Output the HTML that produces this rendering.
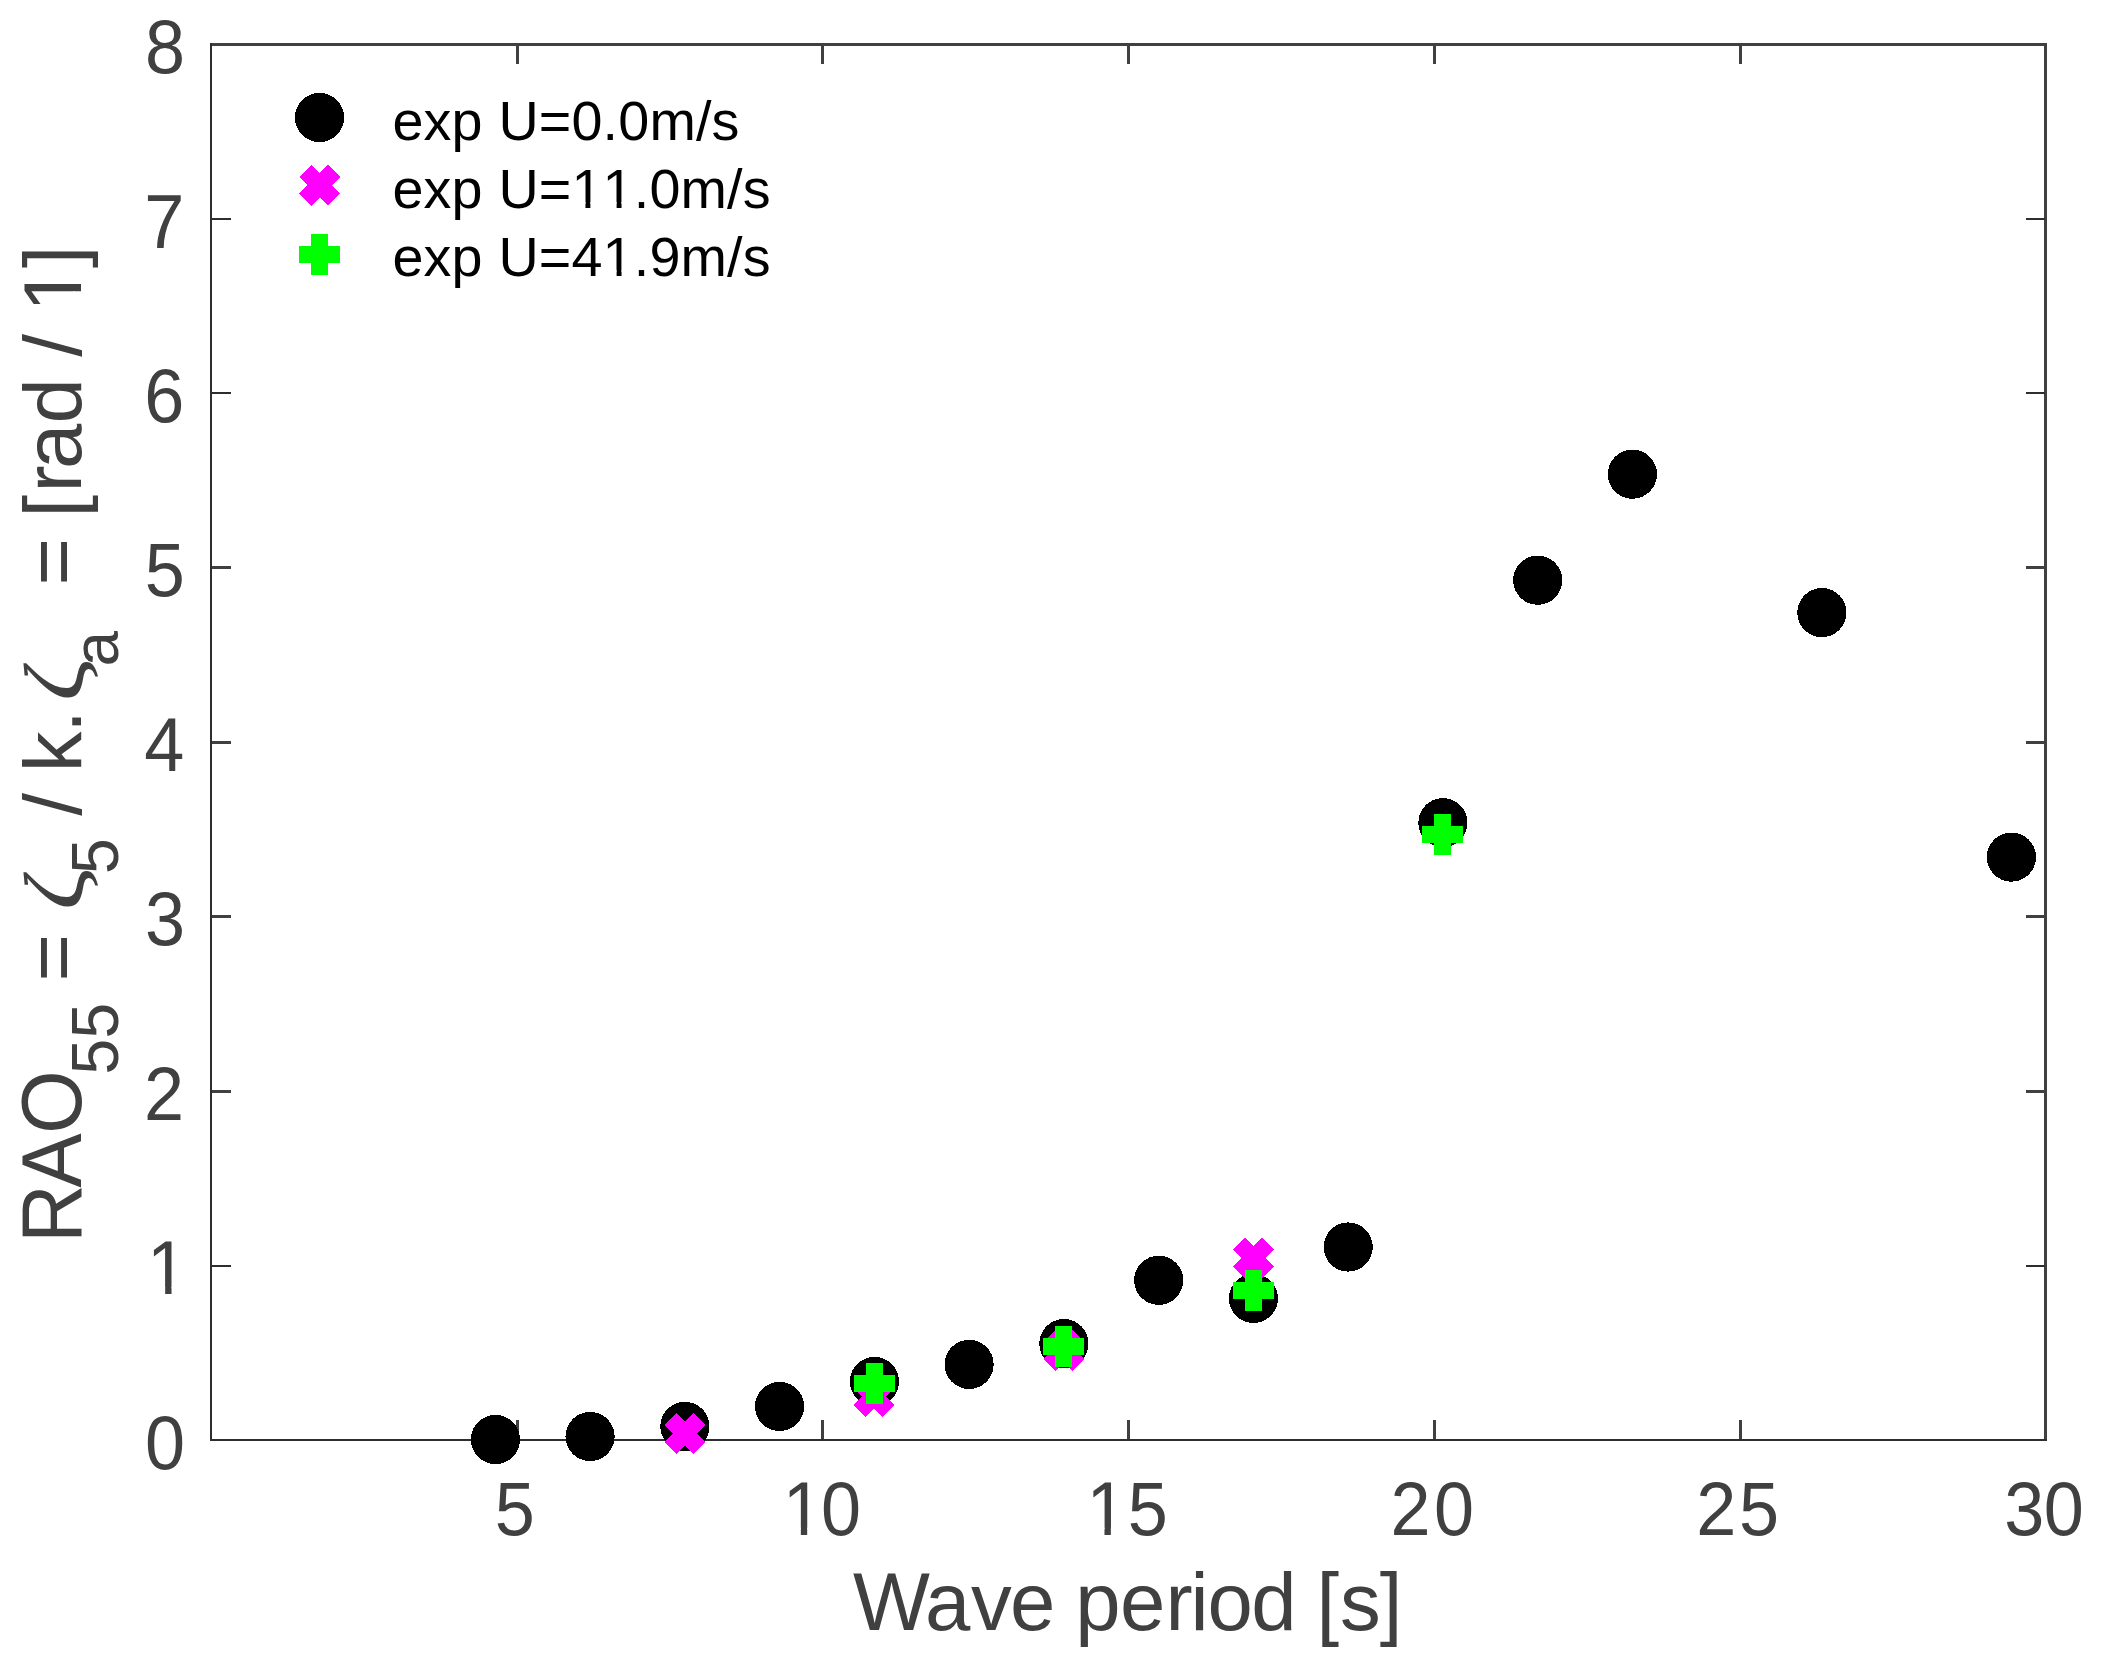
<!DOCTYPE html>
<html><head><meta charset="utf-8"><title>RAO55 vs wave period</title>
<style>html,body{margin:0;padding:0;background:#fff;overflow:hidden}svg{display:block}text{font-family:"Liberation Sans",Arial,Helvetica,sans-serif;font-kerning:none;white-space:pre}.ax{fill:#404040}.tk{font-size:72px;fill:#404040}.lb{font-size:81.5px;fill:#404040}.sb{font-size:64px;fill:#404040}.zt{font-family:"Liberation Serif","DejaVu Serif",serif;font-size:83.8px;fill:#404040}.lg{font-size:55.7px;fill:#000}</style>
</head><body>
<svg width="2106" height="1672" viewBox="0 0 2106 1672">
<rect x="0" y="0" width="2106" height="1672" fill="#fff"/>
<g shape-rendering="crispEdges">
<rect x="210" y="43" width="1837" height="3" fill="#404040"/>
<rect x="2044" y="43" width="3" height="1398" fill="#404040"/>
<rect x="516" y="1420" width="3" height="20" fill="#404040"/>
<rect x="516" y="45" width="3" height="19" fill="#404040"/>
<rect x="821" y="1420" width="3" height="20" fill="#404040"/>
<rect x="821" y="45" width="3" height="19" fill="#404040"/>
<rect x="1127" y="1420" width="3" height="20" fill="#404040"/>
<rect x="1127" y="45" width="3" height="19" fill="#404040"/>
<rect x="1433" y="1420" width="3" height="20" fill="#404040"/>
<rect x="1433" y="45" width="3" height="19" fill="#404040"/>
<rect x="1739" y="1420" width="3" height="20" fill="#404040"/>
<rect x="1739" y="45" width="3" height="19" fill="#404040"/>
<rect x="211" y="1265" width="20" height="2" fill="#2e2e2e"/>
<rect x="2026" y="1265" width="19" height="2" fill="#2e2e2e"/>
<rect x="211" y="1090" width="20" height="3" fill="#404040"/>
<rect x="2026" y="1090" width="19" height="3" fill="#404040"/>
<rect x="211" y="915" width="20" height="3" fill="#404040"/>
<rect x="2026" y="915" width="19" height="3" fill="#404040"/>
<rect x="211" y="741" width="20" height="3" fill="#404040"/>
<rect x="2026" y="741" width="19" height="3" fill="#404040"/>
<rect x="211" y="566" width="20" height="3" fill="#404040"/>
<rect x="2026" y="566" width="19" height="3" fill="#404040"/>
<rect x="211" y="392" width="20" height="2" fill="#2e2e2e"/>
<rect x="2026" y="392" width="19" height="2" fill="#2e2e2e"/>
<rect x="211" y="218" width="20" height="2" fill="#2e2e2e"/>
<rect x="2026" y="218" width="19" height="2" fill="#2e2e2e"/>
<rect x="210" y="1439" width="1837" height="2" fill="#2e2e2e"/>
<rect x="210" y="43" width="2" height="1398" fill="#2e2e2e"/>
</g>
<text class="tk" transform="translate(0,1535.0) scale(1,1.050)" y="0.0" x="494.7">5</text>
<clipPath id="c1"><path clip-rule="evenodd" d="M-3000 -3000H3000V3000H-3000ZM787.00 -6.88H800.83V2.00H787.00ZM807.19 -6.88H820.46V2.00H807.19Z"/></clipPath>
<text class="tk" clip-path="url(#c1)" transform="translate(0,1535.0) scale(1,1.050)" y="0.0" x="782.7 820.9">10</text>
<clipPath id="c2"><path clip-rule="evenodd" d="M-3000 -3000H3000V3000H-3000ZM1090.65 -6.88H1104.48V2.00H1090.65ZM1110.84 -6.88H1124.11V2.00H1110.84Z"/></clipPath>
<text class="tk" clip-path="url(#c2)" transform="translate(0,1535.0) scale(1,1.050)" y="0.0" x="1086.4 1127.7">15</text>
<text class="tk" transform="translate(0,1535.0) scale(1,1.050)" y="0.0" x="1390.5 1434.0">20</text>
<text class="tk" transform="translate(0,1535.0) scale(1,1.050)" y="0.0" x="1696.3 1738.9">25</text>
<text class="tk" transform="translate(0,1535.0) scale(1,1.050)" y="0.0" x="2004.2 2043.7">30</text>
<text class="tk" transform="translate(0,1468.6) scale(1,1.050)" y="0.0" x="145.0">0</text>
<clipPath id="c3"><path clip-rule="evenodd" d="M-3000 -3000H3000V3000H-3000ZM151.33 -6.88H165.16V2.00H151.33ZM171.52 -6.88H184.79V2.00H171.52Z"/></clipPath>
<text class="tk" clip-path="url(#c3)" transform="translate(0,1294.2) scale(1,1.050)" y="0.0" x="147.1">1</text>
<text class="tk" transform="translate(0,1119.7) scale(1,1.050)" y="0.0" x="144.1">2</text>
<text class="tk" transform="translate(0,945.3) scale(1,1.050)" y="0.0" x="145.0">3</text>
<text class="tk" transform="translate(0,770.9) scale(1,1.050)" y="0.0" x="144.2">4</text>
<text class="tk" transform="translate(0,596.4) scale(1,1.050)" y="0.0" x="144.8">5</text>
<text class="tk" transform="translate(0,422.0) scale(1,1.050)" y="0.0" x="144.2">6</text>
<text class="tk" transform="translate(0,247.5) scale(1,1.050)" y="0.0" x="144.3">7</text>
<text class="tk" transform="translate(0,73.1) scale(1,1.050)" y="0.0" x="145.0">8</text>
<text class="lb" y="1629.9" x="853.1 924.9 971.1 1010.1 1052.1 1075.3 1120.0 1165.4 1190.5 1207.6 1251.3 1293.3 1316.5 1340.1 1379.8">Wave period [s]</text>
<clipPath id="cz"><path clip-rule="evenodd" d="M-200 -200H200V200H-200ZM-5 -61.38H21.73V-50.74H-5Z"/></clipPath>
<g transform="translate(81.0,0) rotate(-90)">
<text class="zt" clip-path="url(#cz)" transform="translate(-911.1,2) scale(1.217,1)" x="0" y="0">ζ</text>
<text class="zt" clip-path="url(#cz)" transform="translate(-702.0,2) scale(1.217,1)" x="0" y="0">ζ</text>
<text class="lb" transform="translate(0,0.0) scale(1,1.04)" y="0.0" x="-1243.0 -1187.8 -1133.7">RAO</text>
<text class="sb" transform="translate(0,36.5) scale(1,1.04)" y="0.0" x="-1074.4 -1038.5">55</text>
<text class="lb" y="0.0" x="-1008.5 -981.6 -951.6"> = </text>
<text class="sb" transform="translate(0,36.5) scale(1,1.04)" y="0.0" x="-873.9">5</text>
<text class="lb" y="0.0" x="-843.9 -815.7 -785.7 -772.2 -732.7 -702.7"> / k. </text>
<text class="sb" y="36.5" x="-666.4">a</text>
<clipPath id="c4"><path clip-rule="evenodd" d="M-3000 -3000H3000V3000H-3000ZM-306.75 -7.59H-291.22V2.00H-306.75ZM-284.02 -7.59H-269.13V2.00H-284.02Z"/></clipPath>
<text class="lb" clip-path="url(#c4)" y="0.0" x="-636.4 -585.6 -555.6 -517.6 -492.6 -469.1 -423.5 -393.5 -356.7 -326.7 -311.7 -268.2"> = [rad / 1]</text>
</g>
<g fill="#000" shape-rendering="crispEdges">
<circle cx="495.4" cy="1439.5" r="24.6"/>
<circle cx="590.1" cy="1436.5" r="24.6"/>
<circle cx="684.9" cy="1426.4" r="24.6"/>
<circle cx="779.6" cy="1406.4" r="24.6"/>
<circle cx="874.4" cy="1381.5" r="24.6"/>
<circle cx="969.1" cy="1364.4" r="24.6"/>
<circle cx="1063.9" cy="1343.6" r="24.6"/>
<circle cx="1158.7" cy="1280.3" r="24.6"/>
<circle cx="1253.4" cy="1298.4" r="24.6"/>
<circle cx="1348.2" cy="1247.0" r="24.6"/>
<circle cx="1442.9" cy="822.7" r="24.6"/>
<circle cx="1537.7" cy="580.2" r="24.6"/>
<circle cx="1632.4" cy="474.2" r="24.6"/>
<circle cx="1821.9" cy="612.6" r="24.6"/>
<circle cx="2011.4" cy="857.1" r="24.6"/>
</g>
<path shape-rendering="crispEdges" transform="translate(684.9,1433.4) rotate(45)" d="M-8.5 -20.5h17.0v12.0h12.0v17.0h-12.0v12.0h-17.0v-12.0h-12.0v-17.0h12.0z" fill="#ff00ff"/>
<path shape-rendering="crispEdges" transform="translate(874.4,1396.5) rotate(45)" d="M-8.5 -20.5h17.0v12.0h12.0v17.0h-12.0v12.0h-17.0v-12.0h-12.0v-17.0h12.0z" fill="#ff00ff"/>
<path shape-rendering="crispEdges" transform="translate(1063.9,1350.4) rotate(45)" d="M-8.5 -20.5h17.0v12.0h12.0v17.0h-12.0v12.0h-17.0v-12.0h-12.0v-17.0h12.0z" fill="#ff00ff"/>
<path shape-rendering="crispEdges" transform="translate(1253.4,1258.1) rotate(45)" d="M-8.5 -20.5h17.0v12.0h12.0v17.0h-12.0v12.0h-17.0v-12.0h-12.0v-17.0h12.0z" fill="#ff00ff"/>
<path shape-rendering="crispEdges" transform="translate(874.4,1383.5)" d="M-8.5 -20.5h17.0v12.0h12.0v17.0h-12.0v12.0h-17.0v-12.0h-12.0v-17.0h12.0z" fill="#00ff00"/>
<path shape-rendering="crispEdges" transform="translate(1063.9,1346.5)" d="M-8.5 -20.5h17.0v12.0h12.0v17.0h-12.0v12.0h-17.0v-12.0h-12.0v-17.0h12.0z" fill="#00ff00"/>
<path shape-rendering="crispEdges" transform="translate(1253.4,1290.5)" d="M-8.5 -20.5h17.0v12.0h12.0v17.0h-12.0v12.0h-17.0v-12.0h-12.0v-17.0h12.0z" fill="#00ff00"/>
<path shape-rendering="crispEdges" transform="translate(1442.9,834.3)" d="M-8.5 -20.5h17.0v12.0h12.0v17.0h-12.0v12.0h-17.0v-12.0h-12.0v-17.0h12.0z" fill="#00ff00"/>
<circle shape-rendering="crispEdges" cx="319.5" cy="117.5" r="24.6" fill="#000"/>
<path shape-rendering="crispEdges" transform="translate(319.6,185.4) rotate(45)" d="M-8.5 -20.5h17.0v12.0h12.0v17.0h-12.0v12.0h-17.0v-12.0h-12.0v-17.0h12.0z" fill="#ff00ff"/>
<path shape-rendering="crispEdges" transform="translate(319.5,254.4)" d="M-8.5 -20.5h17.0v12.0h12.0v17.0h-12.0v12.0h-17.0v-12.0h-12.0v-17.0h12.0z" fill="#00ff00"/>
<text class="lg" y="139.8" x="392.4 423.5 451.6 482.7 498.4 538.8 571.5 602.6 618.2 649.4 696.0 711.6">exp U=0.0m/s</text>
<clipPath id="c5"><path clip-rule="evenodd" d="M-3000 -3000H3000V3000H-3000ZM574.53 201.94H585.46V209.60H574.53ZM590.38 201.94H600.87V209.60H590.38ZM605.68 201.94H616.61V209.60H605.68ZM621.53 201.94H632.02V209.60H621.53Z"/></clipPath>
<text class="lg" clip-path="url(#c5)" y="207.6" x="392.4 423.5 451.6 482.7 498.4 538.8 571.5 602.6 633.7 649.4 680.5 727.1 742.8">exp U=11.0m/s</text>
<clipPath id="c6"><path clip-rule="evenodd" d="M-3000 -3000H3000V3000H-3000ZM605.68 270.24H616.61V277.90H605.68ZM621.53 270.24H632.02V277.90H621.53Z"/></clipPath>
<text class="lg" clip-path="url(#c6)" y="275.9" x="392.4 423.5 451.6 482.7 498.4 538.8 571.5 602.6 633.7 649.4 680.5 727.1 742.8">exp U=41.9m/s</text>
</svg></body></html>
